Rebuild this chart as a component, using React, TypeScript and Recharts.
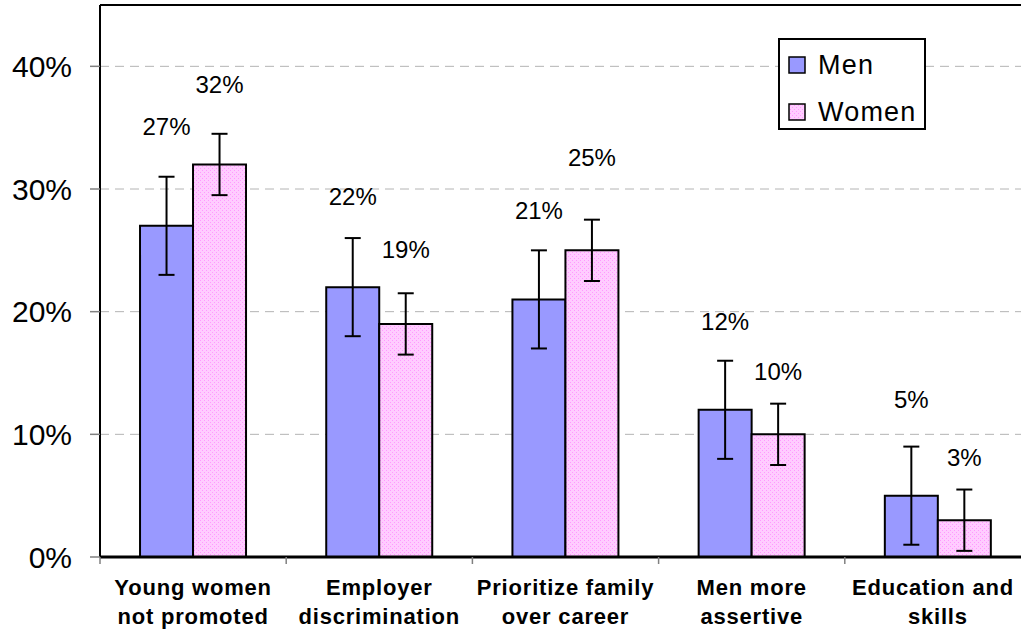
import React from "react";
import {
  BarChart,
  Bar,
  XAxis,
  YAxis,
  CartesianGrid,
  ErrorBar,
  LabelList,
  Legend,
  ReferenceLine,
} from "recharts";

const categories = [
  "Young women\nnot promoted",
  "Employer\ndiscrimination",
  "Prioritize family\nover career",
  "Men more\nassertive",
  "Education and\nskills",
];
const menValues = [27, 22, 21, 12, 5];
const womenValues = [32, 19, 25, 10, 3];
const menError = [4, 4, 4, 4, 4];
const womenError = [2.5, 2.5, 2.5, 2.5, 2.5];
const yTicks = [0, 10, 20, 30, 40];

const FONT = "'Liberation Sans', Arial, sans-serif";
const MEN = "#9999FF";
const WOMEN = "url(#pinkDots)";
const VISIBLE_RIGHT = 1014;
const CAT_FONT = 22;
const CAT_SPACING = 0.8;

// label distance above the error bar top, px (hand-placed in the original)
const menLift = [50, 42, 40, 39, 47];
const womenLift = [49, 44, 62, 32, 32];

const rows = categories.map((name, i) => ({
  name,
  men: menValues[i],
  women: womenValues[i],
  menErr: menError[i],
  womenErr: womenError[i],
}));

let measureCtx: CanvasRenderingContext2D | null = null;
function textWidth(t: string) {
  if (!measureCtx) {
    const c = document.createElement("canvas");
    measureCtx = c.getContext("2d");
  }
  if (!measureCtx) return t.length * CAT_FONT * 0.6;
  measureCtx.font = `bold ${CAT_FONT}px 'Liberation Sans', Arial, sans-serif`;
  return measureCtx.measureText(t).width + CAT_SPACING * t.length;
}

function makeLabel(errs: number[], lifts: number[]) {
  return (props: any) => {
    const { x, y, width, height, value, index } = props;
    if (value == null) return null;
    const perUnit = height / value;
    const top = y - errs[index] * perUnit - lifts[index];
    return (
      <text
        x={x + width / 2}
        y={top}
        textAnchor="middle"
        dominantBaseline="central"
        fontSize={24}
        fontFamily={FONT}
        fill="#000"
      >
        {`${value}%`}
      </text>
    );
  };
}

function CategoryTick(props: any) {
  const { x, y, payload } = props;
  const half = payload?.offset ?? 93;
  const lines = String(payload.value).split("\n");
  return (
    <g>
      <line x1={x - half} x2={x - half} y1={y} y2={y + 7} stroke="#808080" strokeWidth={1.5} />
      {lines.map((t, i) => {
        const w = textWidth(t);
        // keep text inside the visible frame, as the original does
        const cx = Math.min(x, VISIBLE_RIGHT - w / 2);
        return (
          <text
            key={i}
            x={cx}
            y={y + 38 + i * 29}
            textAnchor="middle"
            fontSize={CAT_FONT}
            fontWeight="bold"
            letterSpacing={CAT_SPACING}
            fontFamily={FONT}
            fill="#000"
          >
            {t}
          </text>
        );
      })}
    </g>
  );
}

function LegendBox({ payload }: any) {
  const items = (payload ?? []).map((p: any) => ({ name: p.value, fill: p.color }));
  return (
    <div
      style={{
        width: 144,
        height: 88,
        border: "2px solid #000",
        background: "#fff",
        fontFamily: FONT,
        fontSize: 27,
        position: "relative",
      }}
    >
      {items.map((it: any, i: number) => (
        <div
          key={it.name}
          style={{
            position: "absolute",
            left: 8,
            top: 9 + i * 47,
            height: 32,
            display: "flex",
            alignItems: "center",
            whiteSpace: "nowrap",
          }}
        >
          <svg width={18} height={18} style={{ marginRight: 12 }}>
            <rect x={1} y={1} width={16} height={16} fill={it.fill} stroke="#000" strokeWidth={1.5} />
          </svg>
          <span style={{ letterSpacing: 1.2 }}>{it.name}</span>
        </div>
      ))}
    </div>
  );
}

export default function App() {
  return (
    <div
      style={{
        position: "absolute",
        left: 0,
        top: 0,
        width: 1021,
        height: 633,
        overflow: "hidden",
        background: "#fff",
      }}
    >
      <BarChart
        width={1031}
        height={633}
        data={rows}
        margin={{ top: 5, right: 0, left: 0, bottom: 0 }}
        barGap={0}
        barCategoryGap="21.5%"
      >
        <defs>
          <pattern id="pinkDots" width="4" height="4" patternUnits="userSpaceOnUse">
            <rect width="4" height="4" fill="#FFCCFF" />
            <rect x="0" y="0" width="1" height="1" fill="#FF99FF" />
            <rect x="2" y="2" width="1" height="1" fill="#FF99FF" />
          </pattern>
        </defs>
        <CartesianGrid
          horizontal
          vertical={false}
          stroke="#B4B4B4"
          strokeDasharray="9 6"
        />
        <XAxis
          dataKey="name"
          height={76}
          tickLine={false}
          tickSize={0}
          tickMargin={0}
          interval={0}
          axisLine={{ stroke: "#000", strokeWidth: 3 }}
          tick={<CategoryTick />}
        />
        <YAxis
          width={100}
          domain={[0, 45]}
          ticks={yTicks}
          allowDataOverflow
          tickFormatter={(v) => `${v}%`}
          tick={{ fontSize: 30, fill: "#000", fontFamily: FONT }}
          tickLine={{ stroke: "#808080", strokeWidth: 1.5 }}
          tickSize={10}
          tickMargin={18}
          axisLine={{ stroke: "#000", strokeWidth: 2 }}
        />
        <ReferenceLine y={45} stroke="#000" strokeWidth={2} />
        <Legend
          layout="vertical"
          align="center"
          verticalAlign="middle"
          wrapperStyle={{ left: 778, top: 38, width: 148, height: 92 }}
          content={<LegendBox />}
        />
        <Bar
          dataKey="men"
          name="Men"
          fill={MEN}
          stroke="#000"
          strokeWidth={2}
          isAnimationActive={false}
        >
          <ErrorBar dataKey="menErr" width={8} stroke="#000" strokeWidth={2} />
          <LabelList dataKey="men" content={makeLabel(menError, menLift)} />
        </Bar>
        <Bar
          dataKey="women"
          name="Women"
          fill={WOMEN}
          stroke="#000"
          strokeWidth={2}
          isAnimationActive={false}
        >
          <ErrorBar dataKey="womenErr" width={8} stroke="#000" strokeWidth={2} />
          <LabelList dataKey="women" content={makeLabel(womenError, womenLift)} />
        </Bar>
      </BarChart>
    </div>
  );
}
